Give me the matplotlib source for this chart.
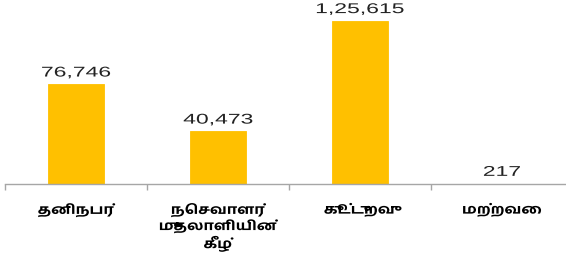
import matplotlib
matplotlib.use("Agg")
import matplotlib.pyplot as plt
from matplotlib.patheffects import AbstractPathEffect
from matplotlib.transforms import Affine2D

categories = ["தனிநபர்", "நெசவாளர்\nமுதலாளியின்\nகீழ்", "கூட்டுறவு", "மற்றவை"]
values = [76746, 40473, 125615, 217]
value_labels = ["76,746", "40,473", "1,25,615", "217"]


class HStretch(AbstractPathEffect):
    """Stretch each text line horizontally about its own centre."""

    def __init__(self, sx):
        super().__init__()
        self.sx = sx

    def draw_path(self, renderer, gc, tpath, affine, rgbFace=None):
        ext = tpath.get_extents()
        cx = 0.5 * (ext.x0 + ext.x1)
        t = Affine2D().translate(-cx, 0).scale(self.sx, 1).translate(cx, 0) + affine
        renderer.draw_path(gc, tpath, t, rgbFace)


W, H = 566, 262
fig = plt.figure(figsize=(W / 100, H / 100), dpi=100)
ax = fig.add_axes([5 / W, (H - 184) / H, 568 / W, 184 / H])
x = list(range(len(categories)))
ax.bar(x, values, width=0.39, color="#FFC000", edgecolor="#FFC000", linewidth=0.6, zorder=2)
ax.set_xlim(-0.5, 3.5)
ax.set_ylim(0, 184 / 1.298e-3)

for s in ["top", "right", "left"]:
    ax.spines[s].set_visible(False)
ax.spines["bottom"].set_color("#A6A6A6")
ax.spines["bottom"].set_linewidth(1.0)
ax.set_yticks([])
ax.set_xticks([i - 0.5 for i in range(len(categories) + 1)])
ax.set_xticklabels([])
ax.tick_params(axis="x", length=4, color="#A6A6A6", width=1)

for i, (v, lab) in enumerate(zip(values, value_labels)):
    ax.annotate(lab, (i, v), xytext=(0, 3.5), textcoords="offset points",
                ha="center", va="bottom", fontsize=10.2,
                family=["Liberation Sans", "DejaVu Sans"], color="#222222",
                path_effects=[HStretch(1.62)])

for i, c in enumerate(categories):
    ax.annotate(c, (i, 0), xycoords=("data", "axes fraction"), xytext=(0, -14),
                textcoords="offset points", ha="center", va="top", fontsize=9.5,
                family=["Hind Madurai", "DejaVu Sans"],
                fontweight="bold", color="#000000", linespacing=1.25,
                path_effects=[HStretch(1.22)])

fig.savefig("out.png", dpi=100)
